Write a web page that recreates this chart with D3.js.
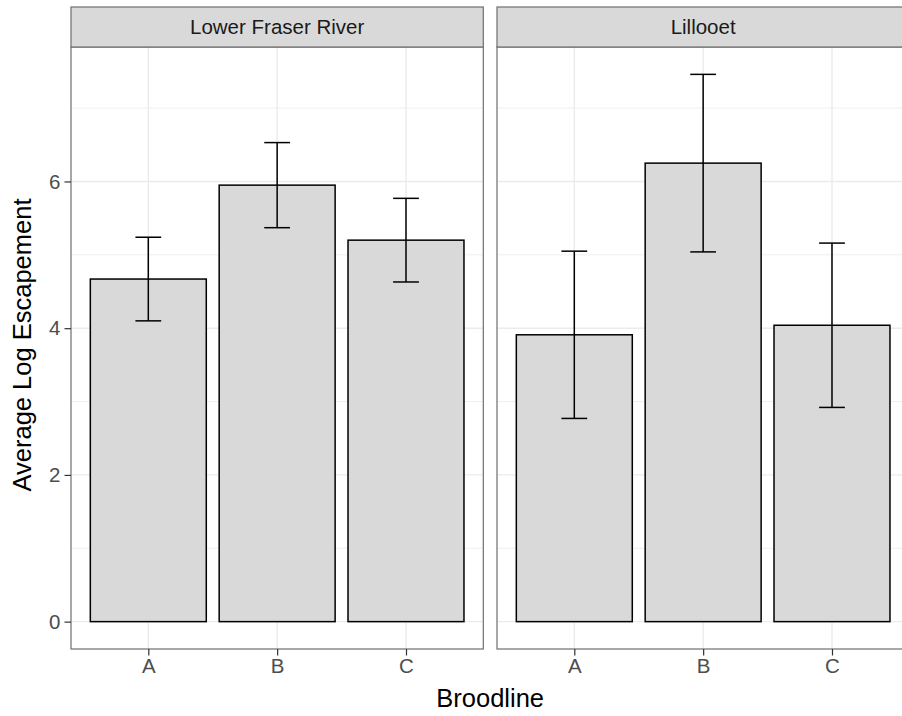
<!DOCTYPE html>
<html>
<head>
<meta charset="utf-8">
<script src="https://cdn.jsdelivr.net/npm/d3@7"></script>
<style>
  html, body { margin: 0; padding: 0; background: #fff; }
  svg { display: block; font-family: "Liberation Sans", Arial, Helvetica, sans-serif; }
</style>
</head>
<body>
<svg id="chart" width="902" height="716"></svg>
<script>
// Facets and categories
const sites = ["Lower Fraser River", "Lillooet"];
const broodlines = ["A", "B", "C"];

// Mean log escapement with lower / upper error limits, per broodline
const lowerFraserMean = [4.67, 5.95, 5.20];
const lowerFraserLow  = [4.10, 5.37, 4.63];
const lowerFraserHigh = [5.24, 6.53, 5.77];

const lillooetMean = [3.91, 6.25, 4.04];
const lillooetLow  = [2.77, 5.04, 2.92];
const lillooetHigh = [5.05, 7.46, 5.16];

const yTicks = [0, 2, 4, 6];
const yMinor = [1, 3, 5, 7];

const seriesBySite = {
  "Lower Fraser River": { mean: lowerFraserMean, low: lowerFraserLow, high: lowerFraserHigh },
  "Lillooet": { mean: lillooetMean, low: lillooetLow, high: lillooetHigh }
};

const rows = sites.map(site => broodlines.map((b, i) => ({
  site, broodline: b,
  mean: seriesBySite[site].mean[i],
  low: seriesBySite[site].low[i],
  high: seriesBySite[site].high[i]
})));

// Layout
const panelLeft = 71, panelW = 412.3, panelGap = 13.7;
const panelTop = 47, panelBottom = 649, stripTop = 7;

const tickFont = 20.5, titleFont = 25.5;

const svg = d3.select("#chart");

// Shared y scale with 5% expansion on both ends
const dataMax = d3.max(rows.flat(), d => d.high);
const dataMin = 0;
const span = dataMax - dataMin;
const y = d3.scaleLinear()
  .domain([dataMin - 0.05 * span, dataMax + 0.05 * span])
  .range([panelBottom, panelTop]);

const gridColor = "#ebebeb";
const borderColor = "#6e6e6e";

sites.forEach((site, p) => {
  const x0 = panelLeft + p * (panelW + panelGap);
  const x = d3.scalePoint().domain(broodlines).range([x0, x0 + panelW]).padding(0.6);
  const step = x.step();

  const g = svg.append("g");

  // panel background
  g.append("rect").attr("x", x0).attr("y", panelTop)
    .attr("width", panelW).attr("height", panelBottom - panelTop)
    .attr("fill", "#fff");

  // minor horizontal grid
  g.selectAll(".ymin").data(yMinor.filter(v => y(v) >= panelTop)).join("line")
    .attr("x1", x0).attr("x2", x0 + panelW)
    .attr("y1", d => y(d)).attr("y2", d => y(d))
    .attr("stroke", gridColor).attr("stroke-width", 0.8);

  // major horizontal grid
  g.selectAll(".ymaj").data(yTicks).join("line")
    .attr("x1", x0).attr("x2", x0 + panelW)
    .attr("y1", d => y(d)).attr("y2", d => y(d))
    .attr("stroke", gridColor).attr("stroke-width", 1.4);

  // major vertical grid
  g.selectAll(".xmaj").data(broodlines).join("line")
    .attr("x1", d => x(d)).attr("x2", d => x(d))
    .attr("y1", panelTop).attr("y2", panelBottom)
    .attr("stroke", gridColor).attr("stroke-width", 1.4);

  // bars
  const barW = 0.9 * step;
  g.selectAll(".bar").data(rows[p]).join("rect")
    .attr("x", d => x(d.broodline) - barW / 2)
    .attr("width", barW)
    .attr("y", d => y(d.mean))
    .attr("height", d => y(0) - y(d.mean))
    .attr("fill", "#d9d9d9")
    .attr("stroke", "#000")
    .attr("stroke-width", 1.5);

  // error bars
  const capW = 0.2 * step;
  const eb = g.selectAll(".err").data(rows[p]).join("g");
  eb.append("line")
    .attr("x1", d => x(d.broodline)).attr("x2", d => x(d.broodline))
    .attr("y1", d => y(d.low)).attr("y2", d => y(d.high));
  eb.append("line")
    .attr("x1", d => x(d.broodline) - capW / 2).attr("x2", d => x(d.broodline) + capW / 2)
    .attr("y1", d => y(d.high)).attr("y2", d => y(d.high));
  eb.append("line")
    .attr("x1", d => x(d.broodline) - capW / 2).attr("x2", d => x(d.broodline) + capW / 2)
    .attr("y1", d => y(d.low)).attr("y2", d => y(d.low));
  eb.selectAll("line").attr("stroke", "#000").attr("stroke-width", 1.5);

  // panel border
  g.append("rect").attr("x", x0).attr("y", panelTop)
    .attr("width", panelW).attr("height", panelBottom - panelTop)
    .attr("fill", "none").attr("stroke", borderColor).attr("stroke-width", 1.2);

  // facet strip
  g.append("rect").attr("x", x0).attr("y", stripTop)
    .attr("width", panelW).attr("height", panelTop - stripTop)
    .attr("fill", "#d9d9d9").attr("stroke", borderColor).attr("stroke-width", 1.2);
  g.append("text")
    .attr("x", x0 + panelW / 2).attr("y", (stripTop + panelTop) / 2)
    .attr("dy", "0.35em")
    .attr("text-anchor", "middle")
    .attr("font-size", tickFont)
    .attr("fill", "#1a1a1a")
    .text(site);

  // x axis
  const xAxis = d3.axisBottom(x).tickSize(6.5).tickPadding(3);
  const ax = g.append("g").attr("transform", `translate(0,${panelBottom})`).call(xAxis);
  ax.select(".domain").remove();
  ax.selectAll(".tick line").attr("stroke", "#333").attr("stroke-width", 1.2);
  ax.selectAll(".tick text").attr("font-size", tickFont).attr("fill", "#4d4d4d")
    .attr("font-family", "Liberation Sans, Arial, sans-serif");

  // y axis on the first panel only
  if (p === 0) {
    const yAxis = d3.axisLeft(y).tickValues(yTicks).tickFormat(d3.format("d")).tickSize(6.5).tickPadding(4);
    const ay = g.append("g").attr("transform", `translate(${x0},0)`).call(yAxis);
    ay.select(".domain").remove();
    ay.selectAll(".tick line").attr("stroke", "#333").attr("stroke-width", 1.2);
    ay.selectAll(".tick text").attr("font-size", tickFont).attr("fill", "#4d4d4d")
      .attr("font-family", "Liberation Sans, Arial, sans-serif");
  }
});

// axis titles
svg.append("text")
  .attr("x", panelLeft + (2 * panelW + panelGap) / 2)
  .attr("y", 707)
  .attr("text-anchor", "middle")
  .attr("font-size", titleFont)
  .attr("fill", "#000")
  .text("Broodline");

svg.append("text")
  .attr("transform", `translate(31,${(panelTop + panelBottom) / 2 - 3}) rotate(-90)`)
  .attr("text-anchor", "middle")
  .attr("font-size", titleFont)
  .attr("fill", "#000")
  .text("Average Log Escapement");
</script>
</body>
</html>
